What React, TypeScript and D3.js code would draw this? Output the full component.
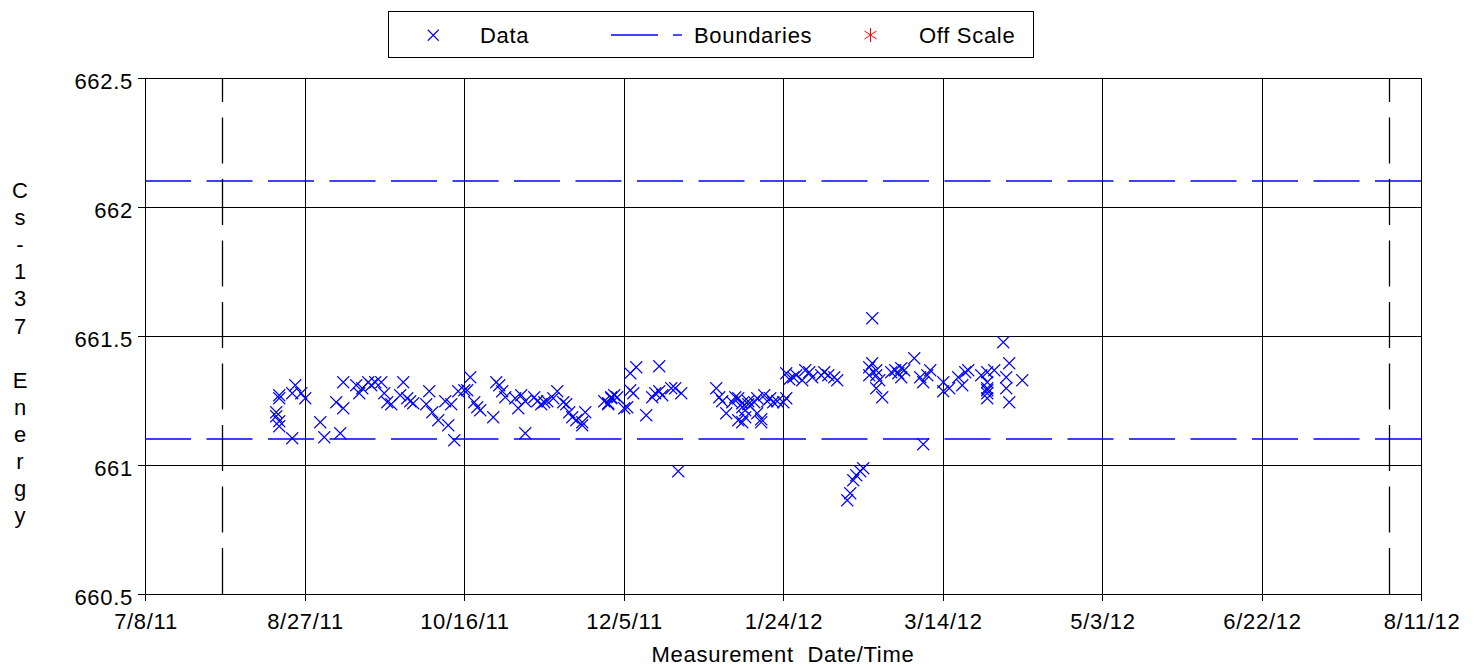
import React from 'react';
import * as d3 from 'd3';

const measurementDates = [
  '2011-08-19', '2011-08-19', '2011-08-18', '2011-08-18', '2011-08-19', '2011-08-19', '2011-08-23', '2011-08-24',
  '2011-08-23', '2011-08-26', '2011-08-27', '2011-09-01', '2011-09-02', '2011-09-07', '2011-09-06', '2011-09-08',
  '2011-09-08', '2011-09-12', '2011-09-13', '2011-09-14', '2011-09-16', '2011-09-17', '2011-09-18', '2011-09-20',
  '2011-09-21', '2011-09-22', '2011-09-23', '2011-09-27', '2011-09-26', '2011-09-28', '2011-09-29', '2011-09-30',
  '2011-10-05', '2011-10-04', '2011-10-06', '2011-10-08', '2011-10-11', '2011-10-13', '2011-10-10', '2011-10-12',
  '2011-10-14', '2011-10-16', '2011-10-17', '2011-10-18', '2011-10-19', '2011-10-20', '2011-10-21', '2011-10-25',
  '2011-10-26', '2011-10-27', '2011-10-28', '2011-10-29', '2011-11-01', '2011-11-02', '2011-11-03', '2011-11-04',
  '2011-11-04', '2011-11-07', '2011-11-08', '2011-11-09', '2011-11-10', '2011-11-11', '2011-11-13', '2011-11-14',
  '2011-11-16', '2011-11-17', '2011-11-18', '2011-11-19', '2011-11-20', '2011-11-22', '2011-11-23', '2011-11-22',
  '2011-11-29', '2011-11-30', '2011-11-30', '2011-12-01', '2011-12-01', '2011-12-02', '2011-12-03', '2011-12-05',
  '2011-12-06', '2011-12-07', '2011-12-09', '2011-12-07', '2011-12-08', '2011-12-16', '2011-12-12', '2011-12-14',
  '2011-12-15', '2011-12-16', '2011-12-17', '2011-12-20', '2011-12-21', '2011-12-23', '2011-12-22', '2012-01-03',
  '2012-01-04', '2012-01-05', '2012-01-06', '2012-01-08', '2012-01-09', '2012-01-10', '2012-01-11', '2012-01-11',
  '2012-01-12', '2012-01-13', '2012-01-13', '2012-01-15', '2012-01-16', '2012-01-18', '2012-01-19', '2012-01-20',
  '2012-01-21', '2012-01-22', '2012-01-24', '2012-01-25', '2012-01-10', '2012-01-11', '2012-01-12', '2012-01-16',
  '2012-01-17', '2012-01-17', '2012-01-25', '2012-01-27', '2012-01-28', '2012-01-26', '2012-01-30', '2012-01-31',
  '2012-02-01', '2012-02-02', '2012-02-05', '2012-02-06', '2012-02-07', '2012-02-09', '2012-02-10', '2012-02-13',
  '2012-02-14', '2012-02-15', '2012-02-16', '2012-02-17', '2012-02-18', '2012-02-21', '2012-02-20', '2012-02-21',
  '2012-02-22', '2012-02-20', '2012-02-22', '2012-02-23', '2012-02-22', '2012-02-24', '2012-02-27', '2012-02-28',
  '2012-02-29', '2012-03-01', '2012-03-01', '2012-03-02', '2012-03-05', '2012-03-07', '2012-03-09', '2012-03-10',
  '2012-03-08', '2012-03-08', '2012-03-14', '2012-03-16', '2012-03-14', '2012-03-19', '2012-03-21', '2012-03-22',
  '2012-03-20', '2012-03-26', '2012-03-28', '2012-03-30', '2012-03-28', '2012-03-28', '2012-03-28', '2012-03-28',
  '2012-03-28', '2012-04-02', '2012-04-04', '2012-04-03', '2012-04-03', '2012-04-04', '2012-04-08',
];

const energyValues = [
  661.26, 661.27, 661.205, 661.19, 661.17, 661.15, 661.105, 661.31,
  661.28, 661.28, 661.26, 661.165, 661.11, 661.125, 661.245, 661.22,
  661.32, 661.31, 661.28, 661.30, 661.32, 661.31, 661.32, 661.32,
  661.28, 661.245, 661.235, 661.32, 661.27, 661.26, 661.25, 661.24,
  661.285, 661.235, 661.205, 661.175, 661.155, 661.095, 661.25, 661.235,
  661.285, 661.29, 661.29, 661.34, 661.245, 661.225, 661.215, 661.185,
  661.32, 661.31, 661.285, 661.265, 661.26, 661.22, 661.27, 661.25,
  661.125, 661.265, 661.25, 661.235, 661.245, 661.25, 661.26, 661.285,
  661.245, 661.235, 661.205, 661.185, 661.175, 661.165, 661.205, 661.155,
  661.25, 661.24, 661.235, 661.26, 661.265, 661.27, 661.265, 661.22,
  661.225, 661.355, 661.38, 661.29, 661.28, 661.385, 661.195, 661.265,
  661.28, 661.285, 661.27, 661.30, 661.30, 661.28, 660.975, 661.30,
  661.265, 661.25, 661.20, 661.245, 661.265, 661.26, 661.24, 661.225,
  661.215, 661.25, 661.235, 661.245, 661.26, 661.27, 661.25, 661.26,
  661.245, 661.25, 661.245, 661.26, 661.175, 661.165, 661.185, 661.20,
  661.165, 661.18, 661.355, 661.34, 661.35, 661.335, 661.33, 661.37,
  661.36, 661.34, 661.35, 661.36, 661.35, 661.34, 661.33, 660.865,
  660.89, 660.94, 660.96, 660.975, 660.99, 661.57, 661.38, 661.395,
  661.37, 661.35, 661.35, 661.33, 661.30, 661.265, 661.36, 661.37,
  661.355, 661.34, 661.375, 661.37, 661.415, 661.34, 661.35, 661.37,
  661.32, 661.08, 661.32, 661.30, 661.285, 661.34, 661.36, 661.37,
  661.31, 661.35, 661.36, 661.37, 661.32, 661.30, 661.29, 661.28,
  661.26, 661.475, 661.395, 661.34, 661.30, 661.245, 661.33,
];

const boundaryEnergies = [661.1, 662.1];
const boundaryDates = ['2011-08-01', '2012-08-01'];
const xDomain = ['2011-07-08', '2012-08-11'];
const xTickDates = [
  '2011-07-08', '2011-08-27', '2011-10-16', '2011-12-05', '2012-01-24',
  '2012-03-14', '2012-05-03', '2012-06-22', '2012-08-11',
];
const yTickValues = [660.5, 661, 661.5, 662, 662.5];
const yAxisLabel = 'Cs-137 Energy';
const xAxisLabel = 'Measurement  Date/Time';
const legendLabels = ['Data', 'Boundaries', 'Off Scale'];

const parseDate = d3.timeParse('%Y-%m-%d');
const fmtDate = d3.timeFormat('%-m/%-d/%y');

const FONT = "'Liberation Sans', Arial, Helvetica, sans-serif";
const FS = 22;
const LS = 0.7;
const BLUE = '#0000ff';
const RED = '#ff0000';

export default function App() {
  const left = 145, right = 1421, top = 78, bottom = 594;
  const x = d3.scaleTime()
    .domain(xDomain.map((d) => parseDate(d) as Date))
    .range([left, right]);
  const y = d3.scaleLinear().domain([660.5, 662.5]).range([bottom, top]);

  const points = measurementDates.map((d, i) => ({ date: parseDate(d) as Date, v: energyValues[i] }));
  const crisp = (v: number) => Math.round(v) + 0.5;

  const xMark = (s: number) => `M${-s},${-s}L${s},${s}M${-s},${s}L${s},${-s}`;

  return (
    <svg
      width={1480}
      height={669}
      style={{ position: 'absolute', left: 0, top: 0, background: '#fff' }}
      fontFamily={FONT}
    >
      <rect x={0} y={0} width={1480} height={669} fill="#fff" />

      {/* grid lines */}
      <g stroke="#000" strokeWidth={1} shapeRendering="crispEdges">
        {xTickDates.map((d) => {
          const xx = crisp(x(parseDate(d) as Date));
          return <line key={'gx' + d} x1={xx} x2={xx} y1={top} y2={bottom + 7} />;
        })}
        {yTickValues.map((v) => {
          const yy = crisp(y(v));
          return <line key={'gy' + v} x1={left - 7} x2={right} y1={yy} y2={yy} />;
        })}
      </g>

      {/* boundaries */}
      <g fill="none">
        {boundaryEnergies.map((v) => {
          const yy = Math.round(y(v));
          return (
            <line key={'bh' + v} x1={left} x2={right} y1={yy} y2={yy} stroke={BLUE} strokeWidth={1.4} strokeDasharray="46 15.5" />
          );
        })}
        {boundaryDates.map((d) => {
          const xx = crisp(x(parseDate(d) as Date));
          return (
            <line key={'bv' + d} x1={xx} x2={xx} y1={bottom} y2={top} stroke="#000" strokeWidth={1.3} strokeDasharray="46 15.5" />
          );
        })}
      </g>

      {/* data */}
      <g stroke={BLUE} strokeWidth={1.1} fill="none">
        {points.map((p, i) => (
          <path
            key={'p' + i}
            d={xMark(6)}
            transform={`translate(${Math.round(x(p.date)) + 0.25},${Math.round(y(p.v)) + 0.25})`}
          />
        ))}
      </g>

      {/* y tick labels */}
      <g fontSize={FS} fill="#000" textAnchor="end" letterSpacing={LS}>
        {yTickValues.map((v) => (
          <text key={'yl' + v} x={133} y={y(v) + 11}>{String(v)}</text>
        ))}
      </g>

      {/* x tick labels */}
      <g fontSize={FS} fill="#000" textAnchor="middle" letterSpacing={LS}>
        {xTickDates.map((d) => (
          <text key={'xl' + d} x={x(parseDate(d) as Date) + 1} y={629}>{fmtDate(parseDate(d) as Date)}</text>
        ))}
      </g>

      {/* axis titles */}
      <text x={783} y={662} fontSize={FS} textAnchor="middle" letterSpacing={LS} style={{ whiteSpace: 'pre' }}>
        {xAxisLabel}
      </text>
      <g fontSize={FS} textAnchor="middle">
        {yAxisLabel.split('').map((ch, i) => (
          <text key={'yc' + i} x={20} y={198 + i * 27.1}>{ch}</text>
        ))}
      </g>

      {/* legend */}
      <rect x={388.5} y={11.5} width={645} height={46} fill="#fff" stroke="#000" strokeWidth={1} shapeRendering="crispEdges" />
      <path d={xMark(5.5)} transform="translate(433.25,35.25)" stroke={BLUE} strokeWidth={1.1} fill="none" />
      <text x={480} y={43} fontSize={FS} letterSpacing={LS}>{legendLabels[0]}</text>
      <line x1={611} x2={658} y1={35} y2={35} stroke={BLUE} strokeWidth={1.4} />
      <line x1={673} x2={682} y1={35} y2={35} stroke={BLUE} strokeWidth={1.4} />
      <text x={694} y={43} fontSize={FS} letterSpacing={LS}>{legendLabels[1]}</text>
      <path d="M0,-7V7M-6,-4L6,4M-6,4L6,-4" transform="translate(870.5,35)" stroke={RED} strokeWidth={1} fill="none" />
      <text x={919} y={43} fontSize={FS} letterSpacing={LS}>{legendLabels[2]}</text>
    </svg>
  );
}
